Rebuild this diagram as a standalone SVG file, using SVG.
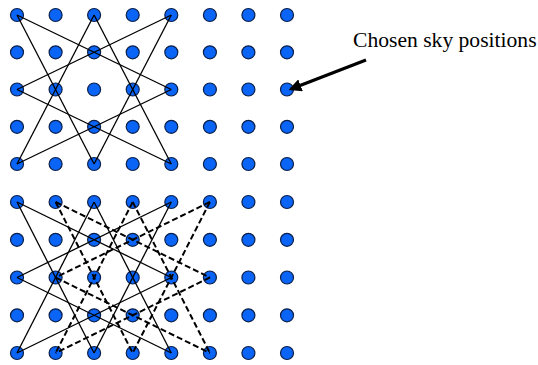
<svg xmlns="http://www.w3.org/2000/svg" width="538" height="365" viewBox="0 0 538 365">
<style>
circle{fill:#0a64f5;stroke:#0b1f4a;stroke-width:1.2}
.s{stroke:#000;stroke-width:1.3;fill:none}
.d{stroke:#000;stroke-width:2;stroke-dasharray:6 3;fill:none}
.lbl{font-family:"Liberation Serif","Times New Roman",serif;font-size:21.6px;fill:#000}
</style>
<defs>
<marker id="ah" markerWidth="4" markerHeight="4" refX="3.2" refY="2" orient="auto" markerUnits="strokeWidth"><path d="M0,0 L4,2 L0,4 z" fill="#000"/></marker>
</defs>
<rect width="538" height="365" fill="#fff"/>
<g id="nodes-top">
<g id="t00"><circle cx="17" cy="15" r="6.5"/></g><g id="t01"><circle cx="55.6" cy="15" r="6.5"/></g><g id="t02"><circle cx="94.1" cy="15" r="6.5"/></g><g id="t03"><circle cx="132.7" cy="15" r="6.5"/></g><g id="t04"><circle cx="171.3" cy="15" r="6.5"/></g><g id="t05"><circle cx="209.9" cy="15" r="6.5"/></g><g id="t06"><circle cx="248.4" cy="15" r="6.5"/></g><g id="t07"><circle cx="287" cy="15" r="6.5"/></g>
<g id="t10"><circle cx="17" cy="52.3" r="6.5"/></g><g id="t11"><circle cx="55.6" cy="52.3" r="6.5"/></g><g id="t12"><circle cx="94.1" cy="52.3" r="6.5"/></g><g id="t13"><circle cx="132.7" cy="52.3" r="6.5"/></g><g id="t14"><circle cx="171.3" cy="52.3" r="6.5"/></g><g id="t15"><circle cx="209.9" cy="52.3" r="6.5"/></g><g id="t16"><circle cx="248.4" cy="52.3" r="6.5"/></g><g id="t17"><circle cx="287" cy="52.3" r="6.5"/></g>
<g id="t20"><circle cx="17" cy="89.5" r="6.5"/></g><g id="t21"><circle cx="55.6" cy="89.5" r="6.5"/></g><g id="t22"><circle cx="94.1" cy="89.5" r="6.5"/></g><g id="t23"><circle cx="132.7" cy="89.5" r="6.5"/></g><g id="t24"><circle cx="171.3" cy="89.5" r="6.5"/></g><g id="t25"><circle cx="209.9" cy="89.5" r="6.5"/></g><g id="t26"><circle cx="248.4" cy="89.5" r="6.5"/></g><g id="t27"><circle cx="287" cy="89.5" r="6.5"/></g>
<g id="t30"><circle cx="17" cy="126.8" r="6.5"/></g><g id="t31"><circle cx="55.6" cy="126.8" r="6.5"/></g><g id="t32"><circle cx="94.1" cy="126.8" r="6.5"/></g><g id="t33"><circle cx="132.7" cy="126.8" r="6.5"/></g><g id="t34"><circle cx="171.3" cy="126.8" r="6.5"/></g><g id="t35"><circle cx="209.9" cy="126.8" r="6.5"/></g><g id="t36"><circle cx="248.4" cy="126.8" r="6.5"/></g><g id="t37"><circle cx="287" cy="126.8" r="6.5"/></g>
<g id="t40"><circle cx="17" cy="164" r="6.5"/></g><g id="t41"><circle cx="55.6" cy="164" r="6.5"/></g><g id="t42"><circle cx="94.1" cy="164" r="6.5"/></g><g id="t43"><circle cx="132.7" cy="164" r="6.5"/></g><g id="t44"><circle cx="171.3" cy="164" r="6.5"/></g><g id="t45"><circle cx="209.9" cy="164" r="6.5"/></g><g id="t46"><circle cx="248.4" cy="164" r="6.5"/></g><g id="t47"><circle cx="287" cy="164" r="6.5"/></g>
</g>
<g id="nodes-bottom">
<g id="b00"><circle cx="17" cy="202" r="6.5"/></g><g id="b01"><circle cx="55.6" cy="202" r="6.5"/></g><g id="b02"><circle cx="94.1" cy="202" r="6.5"/></g><g id="b03"><circle cx="132.7" cy="202" r="6.5"/></g><g id="b04"><circle cx="171.3" cy="202" r="6.5"/></g><g id="b05"><circle cx="209.9" cy="202" r="6.5"/></g><g id="b06"><circle cx="248.4" cy="202" r="6.5"/></g><g id="b07"><circle cx="287" cy="202" r="6.5"/></g>
<g id="b10"><circle cx="17" cy="239.8" r="6.5"/></g><g id="b11"><circle cx="55.6" cy="239.8" r="6.5"/></g><g id="b12"><circle cx="94.1" cy="239.8" r="6.5"/></g><g id="b13"><circle cx="132.7" cy="239.8" r="6.5"/></g><g id="b14"><circle cx="171.3" cy="239.8" r="6.5"/></g><g id="b15"><circle cx="209.9" cy="239.8" r="6.5"/></g><g id="b16"><circle cx="248.4" cy="239.8" r="6.5"/></g><g id="b17"><circle cx="287" cy="239.8" r="6.5"/></g>
<g id="b20"><circle cx="17" cy="277.5" r="6.5"/></g><g id="b21"><circle cx="55.6" cy="277.5" r="6.5"/></g><g id="b22"><circle cx="94.1" cy="277.5" r="6.5"/></g><g id="b23"><circle cx="132.7" cy="277.5" r="6.5"/></g><g id="b24"><circle cx="171.3" cy="277.5" r="6.5"/></g><g id="b25"><circle cx="209.9" cy="277.5" r="6.5"/></g><g id="b26"><circle cx="248.4" cy="277.5" r="6.5"/></g><g id="b27"><circle cx="287" cy="277.5" r="6.5"/></g>
<g id="b30"><circle cx="17" cy="315.3" r="6.5"/></g><g id="b31"><circle cx="55.6" cy="315.3" r="6.5"/></g><g id="b32"><circle cx="94.1" cy="315.3" r="6.5"/></g><g id="b33"><circle cx="132.7" cy="315.3" r="6.5"/></g><g id="b34"><circle cx="171.3" cy="315.3" r="6.5"/></g><g id="b35"><circle cx="209.9" cy="315.3" r="6.5"/></g><g id="b36"><circle cx="248.4" cy="315.3" r="6.5"/></g><g id="b37"><circle cx="287" cy="315.3" r="6.5"/></g>
<g id="b40"><circle cx="17" cy="353" r="6.5"/></g><g id="b41"><circle cx="55.6" cy="353" r="6.5"/></g><g id="b42"><circle cx="94.1" cy="353" r="6.5"/></g><g id="b43"><circle cx="132.7" cy="353" r="6.5"/></g><g id="b44"><circle cx="171.3" cy="353" r="6.5"/></g><g id="b45"><circle cx="209.9" cy="353" r="6.5"/></g><g id="b46"><circle cx="248.4" cy="353" r="6.5"/></g><g id="b47"><circle cx="287" cy="353" r="6.5"/></g>
</g>
<g id="connectors">
<g id="top-solid" class="s">
<line x1="17" y1="15" x2="171.3" y2="89.5"/>
<line x1="17" y1="15" x2="94.1" y2="164"/>
<line x1="94.1" y1="15" x2="17" y2="164"/>
<line x1="94.1" y1="15" x2="171.3" y2="164"/>
<line x1="171.3" y1="15" x2="17" y2="89.5"/>
<line x1="171.3" y1="15" x2="94.1" y2="164"/>
<line x1="17" y1="89.5" x2="171.3" y2="164"/>
<line x1="171.3" y1="89.5" x2="17" y2="164"/>
</g>
<g id="bottom-solid" class="s">
<line x1="17" y1="202" x2="171.3" y2="277.5"/>
<line x1="17" y1="202" x2="94.1" y2="353"/>
<line x1="94.1" y1="202" x2="17" y2="353"/>
<line x1="94.1" y1="202" x2="171.3" y2="353"/>
<line x1="171.3" y1="202" x2="17" y2="277.5"/>
<line x1="171.3" y1="202" x2="94.1" y2="353"/>
<line x1="17" y1="277.5" x2="171.3" y2="353"/>
<line x1="171.3" y1="277.5" x2="17" y2="353"/>
</g>
<g id="bottom-dashed" class="d">
<line x1="55.6" y1="202" x2="209.9" y2="277.5"/>
<line x1="55.6" y1="202" x2="132.7" y2="353"/>
<line x1="132.7" y1="202" x2="55.6" y2="353"/>
<line x1="132.7" y1="202" x2="209.9" y2="353"/>
<line x1="209.9" y1="202" x2="55.6" y2="277.5"/>
<line x1="209.9" y1="202" x2="132.7" y2="353"/>
<line x1="55.6" y1="277.5" x2="209.9" y2="353"/>
<line x1="209.9" y1="277.5" x2="55.6" y2="353"/>
</g>
<line id="label-arrow" x1="366" y1="60" x2="291" y2="89" stroke="#000" stroke-width="3.2" marker-end="url(#ah)"/>
</g>
<text class="lbl" x="353" y="47">Chosen sky positions</text>
</svg>
